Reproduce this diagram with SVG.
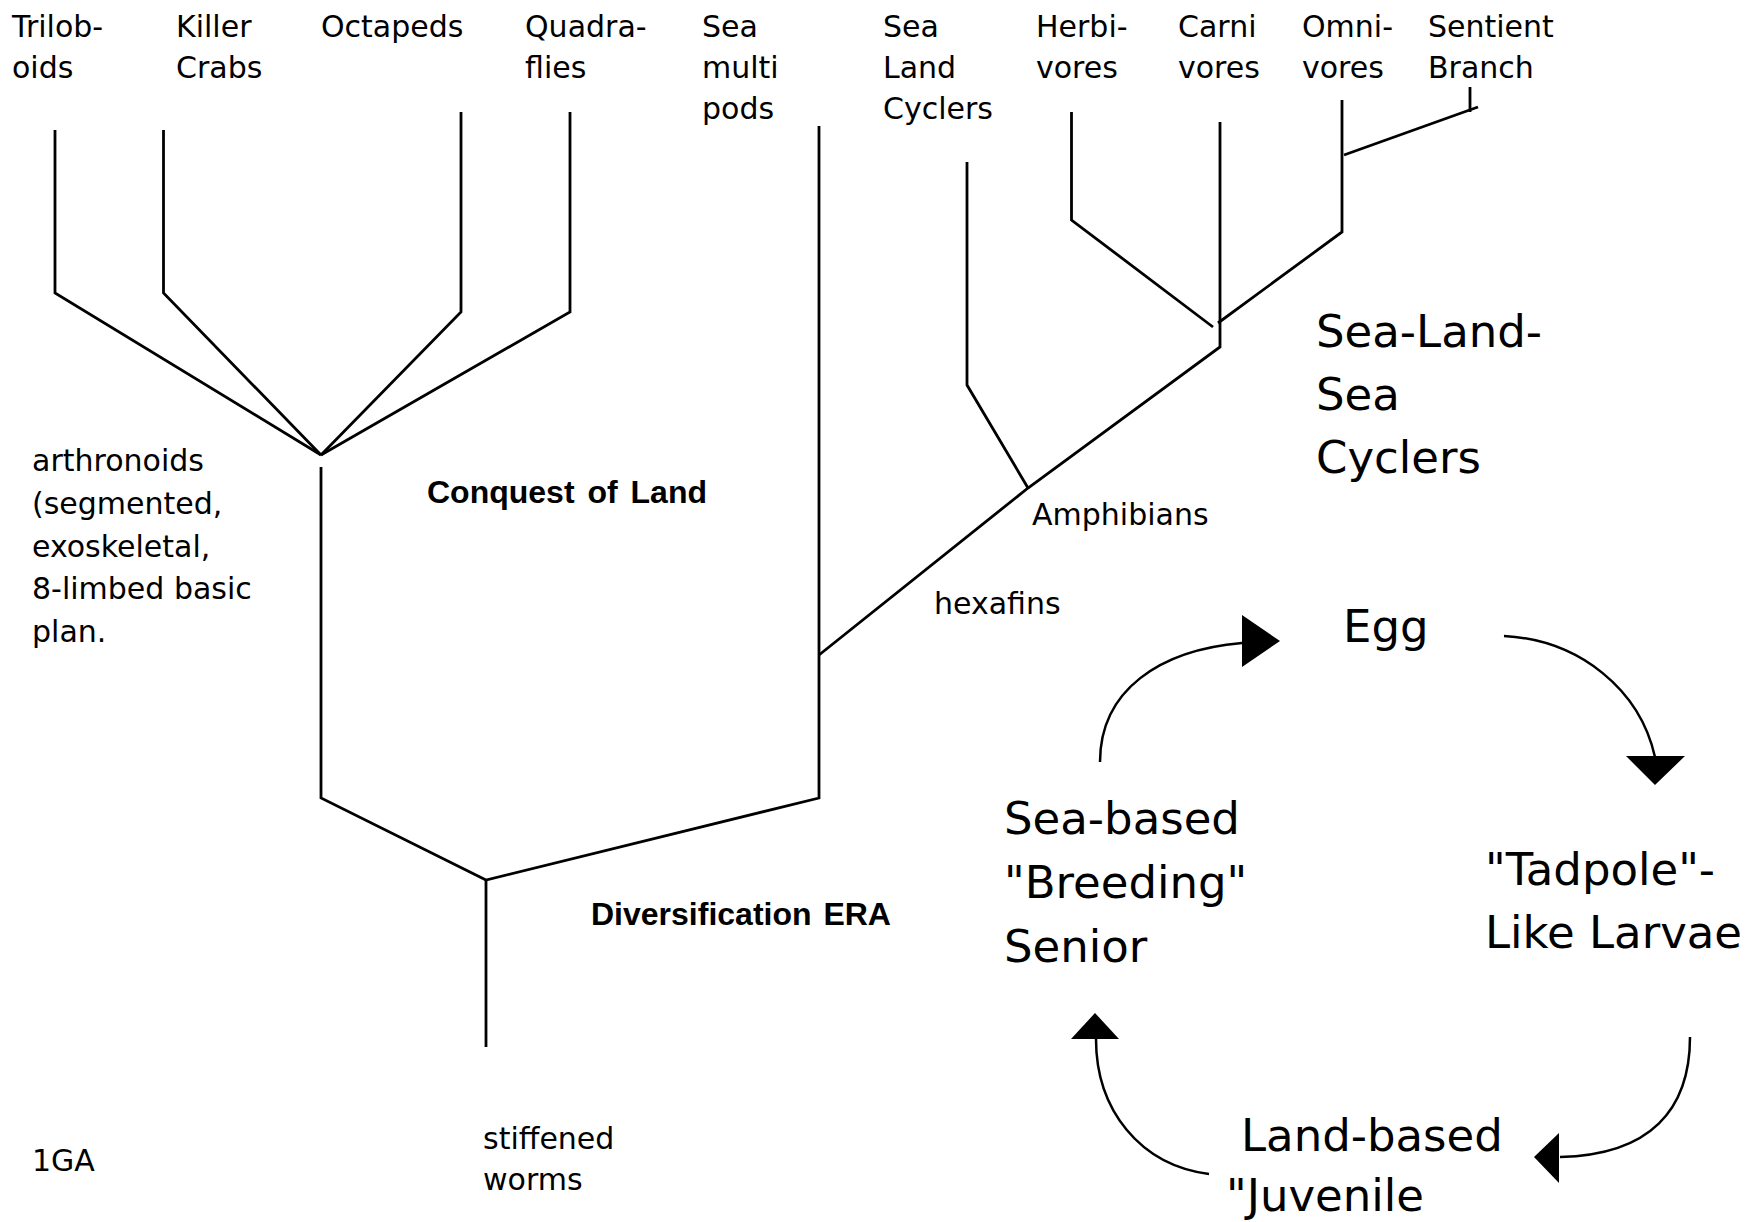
<svg xmlns="http://www.w3.org/2000/svg" width="1758" height="1222" viewBox="0 0 1758 1222">
<defs>
<style>
.t{font-family:"DejaVu Sans",Verdana,sans-serif;font-size:30px;fill:#000}
.b{font-family:"Liberation Sans",Arial,sans-serif;font-weight:bold;font-size:32px;fill:#000}
.big{font-family:"DejaVu Sans",Verdana,sans-serif;font-size:45px;fill:#000}
.ln{fill:none;stroke:#000;stroke-width:2.8;stroke-linejoin:miter;stroke-linecap:butt}
.arc{fill:none;stroke:#000;stroke-width:2.5}
.head{fill:#000;stroke:none}
</style>
</defs>
<rect width="1758" height="1222" fill="#fff"/>
<g id="connectors">
<polyline class="ln" points="55,130 55,293 321,455"/>
<polyline class="ln" points="163.5,130 163.5,293 321,455"/>
<polyline class="ln" points="461,112 461,312 321,455"/>
<polyline class="ln" points="570,112 570,312 321,455"/>
<polyline class="ln" points="321,467 321,798 486,880 819,798 819,126"/>
<polyline class="ln" points="486,880 486,1047"/>
<polyline class="ln" points="819,655 1028,488 1220,347 1220,122"/>
<polyline class="ln" points="967,162 967,385 1028,488"/>
<polyline class="ln" points="1071.5,112 1071.5,220 1213,327"/>
<polyline class="ln" points="1342,100 1342,232 1218,323"/>
<polyline class="ln" points="1344,155 1478,107"/>
<polyline class="ln" points="1470,87 1470,112"/>
<path class="arc" d="M1100,762 C1100,690 1160,650 1242,643"/>
<polygon class="head" points="1242,615 1242,667 1280,641"/>
<path class="arc" d="M1504,636 C1580,640 1640,690 1655,757"/>
<polygon class="head" points="1626,756 1685,756 1655,785"/>
<path class="arc" d="M1690,1037 C1690,1110 1650,1155 1560,1157"/>
<polygon class="head" points="1559,1133 1559,1183 1534,1157"/>
<path class="arc" d="M1209,1174 C1140,1165 1096,1110 1096,1039"/>
<polygon class="head" points="1071,1039 1119,1039 1095,1013"/>
</g>
<g id="n-trilobdoids"><text class="t" x="12" y="37">Trilob-</text><text class="t" x="12" y="78">oids</text></g>
<g id="n-killer-crabs"><text class="t" x="176" y="37">Killer</text><text class="t" x="176" y="78">Crabs</text></g>
<g id="n-octapeds"><text class="t" x="321" y="37">Octapeds</text></g>
<g id="n-quadraflies"><text class="t" x="525" y="37">Quadra-</text><text class="t" x="525" y="78">flies</text></g>
<g id="n-sea-multipods"><text class="t" x="702" y="37">Sea</text><text class="t" x="702" y="78">multi</text><text class="t" x="702" y="119">pods</text></g>
<g id="n-sea-land-cyclers"><text class="t" x="883" y="37">Sea</text><text class="t" x="883" y="78">Land</text><text class="t" x="883" y="119">Cyclers</text></g>
<g id="n-herbivores"><text class="t" x="1036" y="37">Herbi-</text><text class="t" x="1036" y="78">vores</text></g>
<g id="n-carnivores"><text class="t" x="1178" y="37">Carni</text><text class="t" x="1178" y="78">vores</text></g>
<g id="n-omnivores"><text class="t" x="1302" y="37">Omni-</text><text class="t" x="1302" y="78">vores</text></g>
<g id="n-sentient"><text class="t" x="1428" y="37">Sentient</text><text class="t" x="1428" y="78">Branch</text></g>
<g id="n-arthronoids">
<text class="t" x="32" y="471">arthronoids</text>
<text class="t" x="32" y="514">(segmented,</text>
<text class="t" x="32" y="557">exoskeletal,</text>
<text class="t" x="32" y="599">8-limbed basic</text>
<text class="t" x="32" y="642">plan.</text>
</g>
<g id="n-conquest"><text class="b" x="427" y="503" word-spacing="4">Conquest of Land</text></g>
<g id="n-diversification"><text class="b" x="591" y="925" word-spacing="3">Diversification ERA</text></g>
<g id="n-amphibians"><text class="t" x="1032" y="525">Amphibians</text></g>
<g id="n-hexafins"><text class="t" x="934" y="614">hexafins</text></g>
<g id="n-stiffened-worms"><text class="t" x="483" y="1149">stiffened</text><text class="t" x="483" y="1190">worms</text></g>
<g id="n-1ga"><text class="t" x="32" y="1171">1GA</text></g>
<g id="n-sls-cyclers"><text class="big" x="1316" y="347">Sea-Land-</text><text class="big" x="1316" y="410">Sea</text><text class="big" x="1316" y="473">Cyclers</text></g>
<g id="n-egg"><text class="big" x="1343" y="642">Egg</text></g>
<g id="n-tadpole"><text class="big" x="1485" y="885">"Tadpole"-</text><text class="big" x="1485" y="948">Like Larvae</text></g>
<g id="n-land-based"><text class="big" x="1241" y="1151">Land-based</text><text class="big" x="1226" y="1211">"Juvenile</text></g>
<g id="n-sea-based"><text class="big" x="1004" y="834">Sea-based</text><text class="big" x="1004" y="898">"Breeding"</text><text class="big" x="1004" y="962">Senior</text></g>
</svg>
